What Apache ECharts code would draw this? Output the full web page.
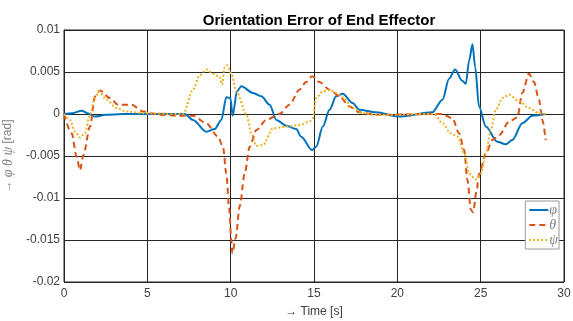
<!DOCTYPE html>
<html>
<head>
<meta charset="utf-8">
<script src="https://cdn.jsdelivr.net/npm/echarts@6/dist/echarts.min.js"></script>
<style>
html, body { margin: 0; padding: 0; background: #fff; }
#main { width: 573px; height: 321px; }
</style>
</head>
<body>
<div id="main"></div>
<script>
var xTicks = [0, 5, 10, 15, 20, 25, 30];

var phiT = [0, 0.5, 1.06, 1.4, 1.86, 2.5, 3.5, 5, 7.25, 7.74, 8.54, 9.04, 9.44, 9.74, 9.98, 10.12, 10.38, 10.64, 11.34, 11.84, 12.34, 12.74, 13.34, 13.93, 14.23, 14.89, 15.13, 15.53, 15.93, 16.33, 16.72, 17.32, 17.72, 18.72, 20.1, 22.1, 22.71, 23.1, 23.47, 23.87, 24.11, 24.31, 24.51, 24.67, 24.9, 25.31, 26.0, 26.5, 26.9, 27.5, 28.1, 28.9];
var phiV = [0, 0.0001, 0.0004, 0.0001, -0.0003, -0.0001, 0, 0, 0, -0.0007, -0.0021, -0.0018, -0.0007, 0.002, 0.0019, -0.0002, 0.0027, 0.0033, 0.0025, 0.0021, 0.0011, -0.0007, -0.0014, -0.0018, -0.0027, -0.0043, -0.0039, -0.0015, 0.0005, 0.0021, 0.0024, 0.0013, 0.0005, 0.0002, -0.0003, 0.0002, 0.0017, 0.0042, 0.0053, 0.004, 0.0036, 0.0064, 0.0083, 0.0056, 0.0009, -0.0015, -0.0033, -0.0036, -0.0031, -0.0011, -0.0002, 0];

var thetaT = [0, 0.46, 0.76, 0.96, 1.16, 1.56, 1.86, 2.16, 2.75, 3.25, 4.05, 4.75, 5.75, 6.75, 7.74, 8.54, 9.24, 9.54, 9.74, 9.9, 10.04, 10.1, 10.3, 10.54, 10.84, 11.14, 11.54, 12.14, 12.93, 13.53, 14.13, 14.53, 14.89, 15.33, 15.93, 16.53, 17.13, 17.72, 18.72, 22.7, 23.3, 23.71, 24.01, 24.21, 24.41, 24.55, 24.75, 24.91, 25.31, 25.71, 26.11, 26.71, 27.2, 27.5, 27.9, 28.2, 28.5, 28.7, 28.9];
var thetaV = [0, -0.0023, -0.0051, -0.0067, -0.0049, -0.0015, 0.0021, 0.0028, 0.0019, 0.0011, 0.0011, 0.0003, -0.0001, -0.0002, -0.0002, -0.0011, -0.0027, -0.0039, -0.0071, -0.011, -0.015, -0.0166, -0.0148, -0.011, -0.0071, -0.0039, -0.0019, -0.0007, 0, 0.0011, 0.0029, 0.0038, 0.0045, 0.0038, 0.0029, 0.0021, 0.0009, 0.0002, -0.0001, 0, -0.0005, -0.0023, -0.0043, -0.0079, -0.0114, -0.0117, -0.0092, -0.0071, -0.0047, -0.0031, -0.0025, -0.0009, -0.0004, 0.0025, 0.0048, 0.0038, 0.0017, -0.0007, -0.0031];

var psiT = [0, 0.36, 0.66, 0.96, 1.26, 1.56, 1.86, 2.11, 2.55, 3.15, 3.75, 4.75, 7.15, 7.74, 8.14, 8.54, 8.94, 9.34, 9.48, 9.64, 9.8, 10.04, 10.34, 10.94, 11.24, 11.54, 11.94, 12.54, 13.34, 14.13, 14.73, 14.93, 15.13, 15.53, 15.93, 16.33, 16.73, 17.33, 17.92, 18.7, 22.2, 22.71, 23.21, 23.61, 24.01, 24.31, 24.71, 25.01, 25.31, 25.61, 25.91, 26.31, 26.71, 27.31, 27.9, 28.5, 28.9];
var psiV = [0, -0.0007, -0.0021, -0.0028, -0.0023, 0, 0.0019, 0.0027, 0.0017, 0.0007, 0.0003, 0.0001, 0, 0.0029, 0.0046, 0.0053, 0.0048, 0.0044, 0.0035, 0.0056, 0.0058, 0.0048, 0.0027, 0, -0.0023, -0.0038, -0.0037, -0.0017, -0.0015, -0.0013, -0.0009, -0.0005, 0.0019, 0.0027, 0.0029, 0.0025, 0.002, 0.0007, 0.0001, -0.0001, 0, -0.0011, -0.0023, -0.0027, -0.0047, -0.0071, -0.0078, -0.0071, -0.0047, -0.0019, 0.0005, 0.0019, 0.0023, 0.0015, 0.0007, 0.0001, 0];

function pairs(t, v) {
	var out = [];
	for (var i = 0; i < t.length; i++) {
		out.push([t[i], v[i]]);
	}
	return out;
}

var axisColor = '#262626';
var labelFont = 'Liberation Sans';
var greek = { fontStyle: 'italic', fontFamily: 'Liberation Serif', fontSize: 14, color: '#808080' };

var myChart = echarts.init(document.getElementById('main'));
myChart.setOption({
	backgroundColor: '#fff',
	animation: false,
	title: {
		text: 'Orientation Error of End Effector',
		left: 314,
		textAlign: 'center',
		top: 8,
		textStyle: { fontFamily: labelFont, fontWeight: 'bold', fontSize: 15, color: '#000' }
	},
	grid: {
		left: 64, right: 9, top: 30, bottom: 39,
		outerBoundsMode: 'none',
		containLabel: false,
		show: true, borderColor: axisColor, borderWidth: 1
	},
	legend: {
		orient: 'vertical',
		right: 14,
		top: 201,
		itemWidth: 19,
		itemHeight: 8,
		itemGap: 1,
		padding: [2, 1, 2, 3],
		borderColor: '#999',
		borderWidth: 1,
		backgroundColor: '#fff',
		itemStyle: { opacity: 0 },
		textStyle: Object.assign({ padding: [0, 0, 0, -4], lineHeight: 13 }, greek),
		data: ['φ', 'θ', 'ψ']
	},
	xAxis: {
		type: 'value',
		min: 0, max: 30, interval: 5,
		name: '→ Time [s]',
		nameLocation: 'middle',
		nameGap: 24,
		nameTextStyle: { fontFamily: labelFont, fontSize: 12, color: '#404040' },
		axisLine: { lineStyle: { color: axisColor } },
		axisTick: { inside: true, length: 4, lineStyle: { color: axisColor } },
		axisLabel: { fontFamily: labelFont, fontSize: 12, color: '#404040', margin: 6 },
		splitLine: { show: true, lineStyle: { color: axisColor, width: 1 } }
	},
	yAxis: {
		type: 'value',
		min: -0.02, max: 0.01, interval: 0.005,
		name: '{a|→ }{g|φ θ ψ}{a| [rad]}',
		nameLocation: 'middle',
		nameRotate: 90,
		nameGap: 46,
		nameTextStyle: {
			rich: {
				a: { fontFamily: labelFont, fontSize: 12, color: '#808080' },
				g: greek
			}
		},
		axisLine: { show: true, lineStyle: { color: axisColor } },
		axisTick: { inside: true, length: 4, lineStyle: { color: axisColor } },
		axisLabel: { fontFamily: labelFont, fontSize: 12, color: '#404040', margin: 4 },
		splitLine: { show: true, lineStyle: { color: axisColor, width: 1 } }
	},
	series: [{
		name: 'φ',
		type: 'line',
		data: pairs(phiT, phiV),
		symbol: 'none',
		smooth: 0.3,
		smoothMonotone: 'x',
		color: '#0072BD',
		lineStyle: { width: 2, color: '#0072BD' }
	}, {
		name: 'θ',
		type: 'line',
		data: pairs(thetaT, thetaV),
		symbol: 'none',
		smooth: 0.3,
		smoothMonotone: 'x',
		color: '#D95319',
		lineStyle: { width: 2, color: '#D95319', type: [6, 4] }
	}, {
		name: 'ψ',
		type: 'line',
		data: pairs(psiT, psiV),
		symbol: 'none',
		smooth: 0.3,
		smoothMonotone: 'x',
		color: '#EDB120',
		lineStyle: { width: 2, color: '#EDB120', type: [2, 2] }
	}]
});
</script>
</body>
</html>
